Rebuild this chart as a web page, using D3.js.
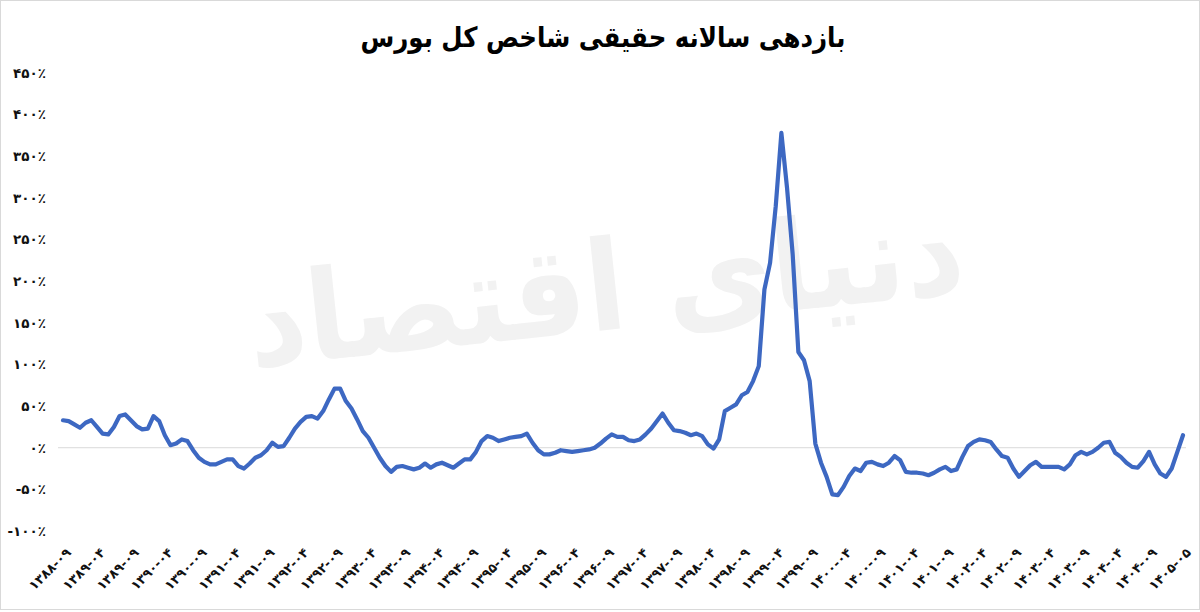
<!DOCTYPE html>
<html>
<head>
<meta charset="utf-8">
<script src="https://cdn.jsdelivr.net/npm/d3@7"></script>
<style>
  html, body { margin: 0; padding: 0; background: #ffffff; }
  svg { display: block; }
</style>
</head>
<body>
<svg id="chart" width="1200" height="612"></svg>
<script>
// ---- Data ----
const title = "بازدهی سالانه حقیقی شاخص کل بورس";
const watermark = "دنیای اقتصاد";

const yTicks = [-100, -50, 0, 50, 100, 150, 200, 250, 300, 350, 400, 450];

const tickLabels = [
  "۱۳۸۸-۰۹", "۱۳۸۹-۰۴", "۱۳۸۹-۰۹", "۱۳۹۰-۰۴", "۱۳۹۰-۰۹", "۱۳۹۱-۰۴", "۱۳۹۱-۰۹",
  "۱۳۹۲-۰۴", "۱۳۹۲-۰۹", "۱۳۹۳-۰۴", "۱۳۹۳-۰۹", "۱۳۹۴-۰۴", "۱۳۹۴-۰۹", "۱۳۹۵-۰۴",
  "۱۳۹۵-۰۹", "۱۳۹۶-۰۴", "۱۳۹۶-۰۹", "۱۳۹۷-۰۴", "۱۳۹۷-۰۹", "۱۳۹۸-۰۴", "۱۳۹۸-۰۹",
  "۱۳۹۹-۰۴", "۱۳۹۹-۰۹", "۱۴۰۰-۰۴", "۱۴۰۰-۰۹", "۱۴۰۱-۰۴", "۱۴۰۱-۰۹", "۱۴۰۲-۰۴",
  "۱۴۰۲-۰۹", "۱۴۰۳-۰۴", "۱۴۰۳-۰۹", "۱۴۰۴-۰۴", "۱۴۰۴-۰۹", "۱۴۰۵-۰۵"
];
const labelEvery = 6;

// monthly real annual return of the TEDPIX, percent
const returns = [
  33, 32, 28, 24, 30, 33, 25, 17, 16, 25,
  38, 40, 33, 26, 22, 23, 38, 32, 15, 3,
  5, 10, 8, -3, -12, -17, -20, -20, -17, -14,
  -14, -22, -25, -19, -12, -9, -3, 6, 1, 2,
  12, 23, 31, 37, 38, 35, 44, 58, 71, 71,
  56, 47, 34, 20, 12, 0, -12, -22, -29, -23,
  -22, -24, -26, -24, -19, -24, -20, -18, -21, -24,
  -19, -14, -14, -5, 8, 14, 12, 8, 10, 12,
  13, 14, 17, 6, -3, -8, -8, -6, -3, -4,
  -5, -4, -3, -2, 0, 5, 11, 16, 13, 13,
  9, 8, 10, 16, 23, 32, 41, 30, 21, 20,
  18, 15, 17, 14, 4, -1, 10, 44, 48, 52,
  63, 67, 80, 98, 190, 222, 290, 378, 312, 232,
  115, 105, 80, 5, -18, -35, -56, -57, -47, -34,
  -25, -28, -18, -17, -20, -22, -18, -10, -15, -29,
  -30, -30, -31, -33, -30, -26, -23, -28, -26, -11,
  2, 7, 10, 9, 7, -2, -10, -12, -25, -35,
  -28, -21, -17, -23, -23, -23, -23, -26, -20, -9,
  -5, -8, -5, 0, 6, 7, -6, -11, -18, -23,
  -24, -16, -5, -20, -31, -35, -25, -5, 15
];

// ---- Helpers ----
const faDigits = "۰۱۲۳۴۵۶۷۸۹";
const toFa = s => String(s).replace(/[0-9]/g, d => faDigits[+d]);
const fmtPct = v => (v < 0 ? "-" : "") + toFa(Math.abs(v)) + "٪";

// ---- Layout ----
const W = 1200, H = 612;
const svg = d3.select("#chart");
const font = "'DejaVu Sans', 'Noto Sans', sans-serif";

svg.append("rect").attr("x", 0.5).attr("y", 0.5)
  .attr("width", W - 1).attr("height", H - 3)
  .attr("fill", "#ffffff").attr("stroke", "#d9d9d9").attr("stroke-width", 1);

const x = d3.scaleLinear().domain([0, returns.length - 1]).range([63, 1183]);
const y = d3.scaleLinear().domain([-100, 450]).range([531, 73]);

// watermark
svg.append("text")
  .attr("x", 605).attr("y", 330)
  .attr("text-anchor", "middle")
  .attr("font-family", font).attr("font-weight", "bold")
  .attr("font-size", 125)
  .attr("fill", "#f2f2f2")
  .attr("transform", "rotate(-6 605 285)")
  .attr("direction", "rtl")
  .attr("textLength", 720)
  .attr("lengthAdjust", "spacingAndGlyphs")
  .text(watermark);

// title
svg.append("text")
  .attr("x", 603).attr("y", 47)
  .attr("text-anchor", "middle")
  .attr("font-family", font).attr("font-weight", "bold")
  .attr("font-size", 28).attr("fill", "#000")
  .attr("direction", "rtl")
  .attr("textLength", 485)
  .attr("lengthAdjust", "spacingAndGlyphs")
  .text(title);

// zero gridline
svg.append("line")
  .attr("x1", 58).attr("x2", 1186)
  .attr("y1", y(0)).attr("y2", y(0))
  .attr("stroke", "#d9d9d9").attr("stroke-width", 1);

// y axis labels
const yAxis = d3.axisLeft(y).tickValues(yTicks).tickSize(0).tickPadding(0)
  .tickFormat(fmtPct);
const gy = svg.append("g").attr("transform", "translate(46,0)").call(yAxis);
gy.select(".domain").remove();
gy.selectAll("text")
  .attr("font-family", font).attr("font-weight", "bold")
  .attr("font-size", 13.5).attr("fill", "#111");

// x axis labels (every 6th point)
const tickIdx = tickLabels.map((_, i) => i * labelEvery);
const xAxis = d3.axisBottom(x).tickValues(tickIdx).tickSize(0)
  .tickFormat((d, i) => tickLabels[i]);
const gx = svg.append("g").attr("transform", "translate(0,548)").call(xAxis);
gx.select(".domain").remove();
gx.selectAll("text")
  .attr("font-family", font).attr("font-weight", "bold")
  .attr("font-size", 13).attr("fill", "#111")
  .attr("text-anchor", "end")
  .attr("dy", "0.35em")
  .attr("transform", "translate(3,0) rotate(-45)");

// line
const line = d3.line()
  .x((d, i) => x(i))
  .y(d => y(d));
svg.append("path")
  .datum(returns)
  .attr("d", line)
  .attr("fill", "none")
  .attr("stroke", "#3d68c2")
  .attr("stroke-width", 4.2)
  .attr("stroke-linejoin", "round")
  .attr("stroke-linecap", "round");
</script>
</body>
</html>
